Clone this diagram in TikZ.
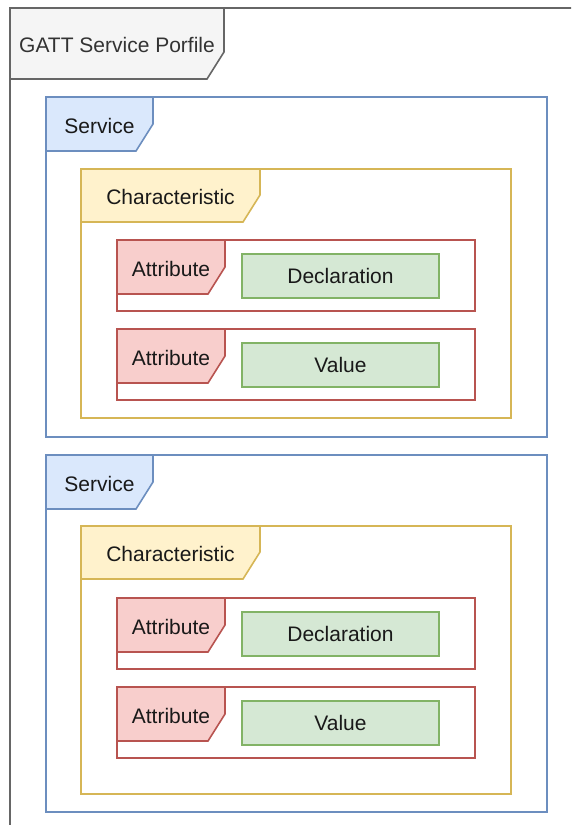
\documentclass[tikz,border=0pt]{standalone}
\usepackage{fontspec}
\setmainfont{Liberation Sans}
\usetikzlibrary{calc}

% draw.io palette
\definecolor{greyfill}{HTML}{F5F5F5}\definecolor{greyline}{HTML}{666666}
\definecolor{bluefill}{HTML}{DAE8FC}\definecolor{blueline}{HTML}{6C8EBF}
\definecolor{yellowfill}{HTML}{FFF2CC}\definecolor{yellowline}{HTML}{D6B656}
\definecolor{redfill}{HTML}{F8CECC}\definecolor{redline}{HTML}{B85450}
\definecolor{greenfill}{HTML}{D5E8D4}\definecolor{greenline}{HTML}{82B366}
\definecolor{labelgrey}{HTML}{333333}

\tikzset{
  frame/.style={draw, line width=1.6pt, inner sep=0pt, outer sep=0pt},
  tabedge/.style={line width=1.6pt, line join=miter},
  lbl/.style={font=\fontsize{21}{25}\selectfont, text=black!90, inner sep=0pt},
  valbox/.style={draw=greenline, fill=greenfill, line width=1.6pt,
    minimum width=197pt, minimum height=44pt, inner sep=0pt, outer sep=0pt,
    font=\fontsize{21}{25}\selectfont, text=black!90},
}

% frame with a cut-corner name tab in its top left corner
% #1 name, #2 colour prefix, #3 x, #4 y, #5 width, #6 height,
% #7 tab width, #8 tab height, #9 label
\newcommand{\tabbedframe}[9]{%
  \node[frame, draw=#2line, minimum width=#5pt, minimum height=#6pt,
        anchor=north west] (#1) at (#3,#4) {};
  \draw[tabedge, draw=#2line, fill=#2fill] (#1.north west) -- ++(#7,0)
    -- ++(0,#8-27) -- ++(-17,27) -- ++(17-#7,0) -- cycle;
  \node[lbl] (#1-tab) at ($(#1.north west)+(#7/2,#8/2+1.5)$) {#9};
}

\begin{document}
\begin{tikzpicture}[x=1pt,y=-1pt]
  \clip (0,0) rectangle (571,825);
  \fill[white] (0,0) rectangle (571,825);

  % profile
  \tabbedframe{profile}{grey}{10}{8}{620}{850}{214}{71}{\textcolor{labelgrey}{GATT Service Porfile}}

  % first service
  \tabbedframe{svcA}{blue}{46}{97}{501}{340}{107}{54}{Service}
  \tabbedframe{chrA}{yellow}{81}{169}{430}{249}{179}{53}{Characteristic}
  \tabbedframe{attA}{red}{117}{240}{358}{71}{108}{54}{Attribute}
  \node[valbox] (declA) at (340.5,276) {Declaration};
  \tabbedframe{attB}{red}{117}{329}{358}{71}{108}{54}{Attribute}
  \node[valbox] (valA) at (340.5,365) {Value};

  % second service
  \tabbedframe{svcB}{blue}{46}{455}{501}{357}{107}{54}{Service}
  \tabbedframe{chrB}{yellow}{81}{526}{430}{268}{179}{53}{Characteristic}
  \tabbedframe{attC}{red}{117}{598}{358}{71}{108}{54}{Attribute}
  \node[valbox] (declB) at (340.5,634) {Declaration};
  \tabbedframe{attD}{red}{117}{687}{358}{71}{108}{54}{Attribute}
  \node[valbox] (valB) at (340.5,723) {Value};
\end{tikzpicture}
\end{document}
